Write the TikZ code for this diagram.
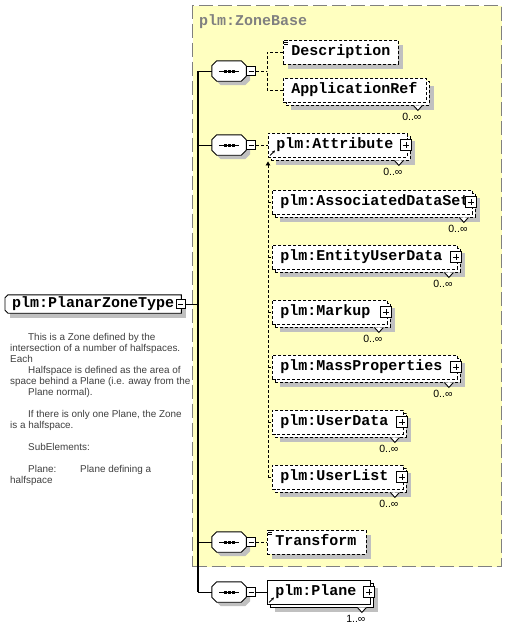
\documentclass[tikz,border=0pt]{standalone}
\usepackage{fontspec}
\setmainfont{Liberation Sans}
\newfontfamily\xsdmono{Liberation Mono}
\usepackage{xcolor}
\usepackage{tikz}
\usetikzlibrary{arrows.meta, positioning, calc, shadows}
\definecolor{cBase}{HTML}{FFFFC0}
\definecolor{cBaseLine}{HTML}{808080}
\definecolor{cShade}{HTML}{C0C0C0}
\definecolor{cDoc}{HTML}{404040}
\definecolor{cInk}{HTML}{000000}
\tikzset{
  basebox/.style={rectangle, draw=cBaseLine, line width=1.3pt, dash pattern=on 14pt off 5pt,
    fill=cBase, inner sep=0pt},
  baselabel/.style={font=\xsdmono\bfseries\fontsize{15}{15}\selectfont, text=cBaseLine, inner sep=0pt},
  elem/.style={rectangle, draw=cInk, line width=0.9pt, fill=white, anchor=west,
    inner xsep=8pt, inner ysep=0pt, minimum height=24pt, text height=9pt, text depth=3pt,
    align=left, font=\xsdmono\bfseries\fontsize{15}{15}\selectfont},
  optl/.style={dash pattern=on 3pt off 2pt},
  single/.style={general shadow={fill=cShade, shadow xshift=5pt, shadow yshift=-5pt}},
  multi/.style={general shadow={fill=cShade, shadow xshift=8pt, shadow yshift=-8pt},
    general shadow={fill=white, draw=cInk, shadow xshift=3pt, shadow yshift=-3pt}},
  ctype/.style={rectangle, fill=white, anchor=west, minimum width=176pt, minimum height=18pt,
    inner xsep=5pt, inner ysep=0pt, text height=9pt, text depth=3pt,
    font=\xsdmono\bfseries\fontsize{15}{15}\selectfont, single},
  seq/.style={rectangle, minimum width=34pt, minimum height=20pt, inner sep=0pt},
  minus/.style={rectangle, draw=cInk, line width=0.8pt, fill=white, minimum size=9pt, inner sep=0pt,
    path picture={\draw[line width=0.8pt] ([xshift=-2.5pt]path picture bounding box.center)
      -- ([xshift=2.5pt]path picture bounding box.center);}},
  plus/.style={rectangle, draw=cInk, line width=0.8pt, fill=white, minimum size=11pt, inner sep=0pt,
    path picture={\draw[line width=0.8pt] ([xshift=-3pt]path picture bounding box.center)
      -- ([xshift=3pt]path picture bounding box.center)
      ([yshift=-3pt]path picture bounding box.center)
      -- ([yshift=3pt]path picture bounding box.center);}},
  mult/.style={font=\fontsize{10.5}{10.5}\selectfont, inner sep=0pt},
  doc/.style={font=\fontsize{9.9}{11}\selectfont, text=cDoc, align=left, inner sep=0pt},
  link/.style={draw=cInk, line width=0.9pt},
}
% octagon outline round a node, #2 = cut
\newcommand{\octo}[2]{($(#1.north west)+(#2,0)$) -- ($(#1.north east)+(-#2,0)$)
  -- ($(#1.north east)+(0,#2)$) -- ($(#1.south east)+(0,-#2)$) -- ($(#1.south east)+(-#2,0)$)
  -- ($(#1.south west)+(#2,0)$) -- ($(#1.south west)+(0,-#2)$) -- ($(#1.north west)+(0,#2)$) -- cycle}

\begin{document}
\begin{tikzpicture}[x=1pt, y=-1pt]
\path[use as bounding box, fill=white] (0,0) rectangle (507,627);
% zone base group
\node[basebox, anchor=north west, minimum width=309pt, minimum height=561pt] (zbase) at (192,5) {};
\node[baselabel, anchor=base west] (zbaseLbl) at (199,25) {plm:ZoneBase};
% the complex type
\node[ctype] (zone) at (5,304) {plm:PlanarZoneType};
\draw[link] ($(zone.north west)+(3,0)$) -- (zone.north east) -- (zone.south east)
  -- ($(zone.south west)+(3,0)$) -- ($(zone.south west)+(0,-3)$) -- ($(zone.north west)+(0,3)$) -- cycle;
\node[minus] (zoneT) at ([xshift=-1pt]zone.east) {};
\node[doc, anchor=north west] (zoneDoc) at (10,333) {%
  \hspace*{18pt}This is a Zone defined by the\\
  intersection of a number of halfspaces.\\
  Each\\
  \hspace*{18pt}Halfspace is defined as the area of\\
  space behind a Plane (i.e. away from the\\
  \hspace*{18pt}Plane normal).\\[11pt]
  \hspace*{18pt}If there is only one Plane, the Zone\\
  is a halfspace.\\[11pt]
  \hspace*{18pt}SubElements:\\[11pt]
  \hspace*{18pt}\makebox[52pt][l]{Plane:}Plane defining a\\
  halfspace};
% sequences
\node[seq] (seqA) at (229,71) {};
\node[seq] (seqB) at (229,145) {};
\node[seq] (seqC) at (229,542) {};
\node[seq] (seqD) at (229,592) {};
\foreach \s in {seqA,seqB,seqC,seqD} {
  \fill[cShade, transform canvas={shift={(4pt,-4pt)}}] \octo{\s}{5};
  \draw[link, fill=white] \octo{\s}{5};
  \draw[link] ([xshift=-10pt]\s.center) -- ([xshift=10pt]\s.center);
  \foreach \d in {-4,0,4}
    \fill[cInk] ([xshift=\d pt]\s.center) ++(-1.5,-1.5) rectangle ++(3,3);
}
\node[minus, right=0pt of seqA] (tA) {};
\node[minus, right=0pt of seqB] (tB) {};
\node[minus, right=0pt of seqC] (tC) {};
\node[minus, right=0pt of seqD] (tD) {};
% elements
\node[elem, optl, single, text width=99pt] (desc) at (283,52) {Description};
\node[elem, optl, multi, text width=127pt] (appref) at (283,90) {ApplicationRef};
\node[elem, optl, multi, text width=123pt] (attr) at (268,145) {plm:Attribute};
\node[elem, optl, multi, text width=184pt] (ads) at (272,202) {plm:AssociatedDataSet};
\node[elem, optl, multi, text width=169pt] (eud) at (272,257) {plm:EntityUserData};
\node[elem, optl, multi, text width=99pt] (mkp) at (272,312) {plm:Markup};
\node[elem, optl, multi, text width=169pt] (mass) at (272,367) {plm:MassProperties};
\node[elem, optl, multi, text width=115pt] (udat) at (272,422) {plm:UserData};
\node[elem, optl, multi, text width=115pt] (ulst) at (272,477) {plm:UserList};
\node[elem, optl, single, text width=83pt] (trans) at (267,542) {Transform};
\node[elem, multi, text width=87pt] (plane) at (267,592) {plm:Plane};
\foreach \n in {attr,ads,eud,mkp,mass,udat,ulst,plane}
  \node[plus] (\n-plus) at ([xshift=-2pt]\n.east) {};
\foreach \n/\m in {appref/0,attr/0,ads/0,eud/0,mkp/0,mass/0,udat/0,ulst/0,plane/1} {
  \draw[link, fill=white] ($(\n.south east)+(-13.5,3)$) -- ++(4.5,5) -- ++(4.5,-5);
  \node[mult] (\n-occ) at ($(\n.south east)+(-15,14)$) {\m..∞};
}
\foreach \n in {desc,trans}
  \foreach \k in {1.2,2.8,4.4}
    \draw[line width=0.7pt] ($(\n.north west)+(0.8,\k)$) -- ++(4.5,0);
\foreach \n in {attr,plane}
  \draw[line width=0.8pt, -{Stealth[length=3pt,width=3pt]}] ($(\n.south west)+(2,-2)$) -- ++(5,-5);
% connectors
\coordinate (trunk) at (198,0);
\draw[link] (zoneT.east) -- (zoneT.east -| trunk);
\draw[link, line width=1.2pt] (trunk |- seqA.west) -- (trunk |- seqD.west);
\foreach \s in {seqA,seqB,seqC,seqD}
  \draw[link] (trunk |- \s.west) -- (\s.west);
\coordinate (forkA) at ($(tA.east)+(11,0)$);
\draw[link, optl] (tA.east) -- (forkA);
\draw[link, optl] (desc.west) -| (forkA);
\draw[link, optl] (appref.west) -| (forkA);
\draw[link, optl] (tB.east) -- (attr.west);
\draw[link, optl, {Triangle[length=4pt,width=4.5pt]}-] ([yshift=-4pt]attr.south west) -- (attr.south west |- ulst.west);
\foreach \n in {ads,eud,mkp,mass,udat,ulst}
  \draw[link, optl] (attr.south west |- \n.west) -- (\n.west);
\draw[link, optl] (tC.east) -- (trans.west);
\draw[link] (tD.east) -- (plane.west);
\end{tikzpicture}
\end{document}
